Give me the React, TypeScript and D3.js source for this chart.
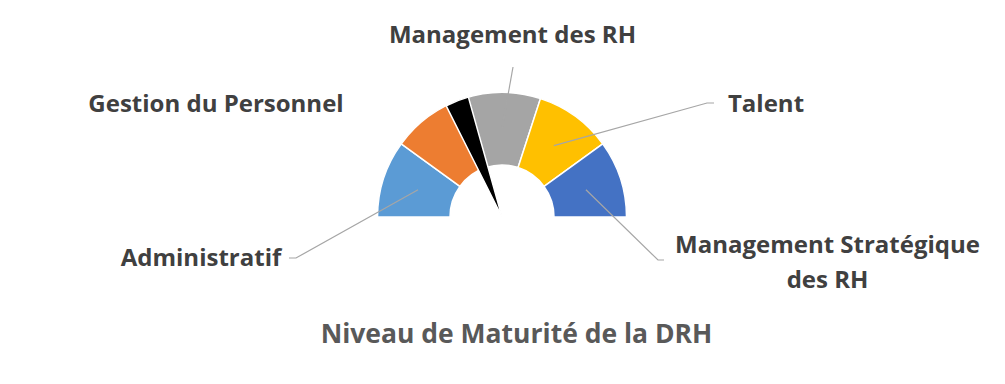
import React from "react";
import * as d3 from "d3";

const categories = [
  "Administratif",
  "Gestion du Personnel",
  "Management des RH",
  "Talent",
  "Management Stratégique des RH",
];
const segmentValues = [1, 1, 1, 1, 1];
const colors = ["#5B9BD5", "#ED7D31", "#A5A5A5", "#FFC000", "#4472C4"];
// needle pie: [before, needle, after]
const needleValues = [35.2, 6.1, 58.7];
const title = "Niveau de Maturité de la DRH";

const W = 1005;
const H = 384;
const cx = 502;
const cy = 217;
const outerR = 124.5;
const innerR = 52;

// label layout: [text lines, x, baseline y, leader elbow x,y, leader end x] per category
const labelLayout: Record<string, { lines: string[]; x: number; y: number; lead?: [number, number][] }> = {
  "Administratif": { lines: ["Administratif"], x: 201, y: 266, lead: [[296, 258], [289, 258]] },
  "Gestion du Personnel": { lines: ["Gestion du Personnel"], x: 216, y: 112 },
  "Management des RH": { lines: ["Management des RH"], x: 512.5, y: 43, lead: [[513, 67]] },
  "Talent": { lines: ["Talent"], x: 766, y: 112, lead: [[707, 103], [714, 103]] },
  "Management Stratégique des RH": {
    lines: ["Management Stratégique", "des RH"],
    x: 827.5,
    y: 253,
    lead: [[658, 260], [664, 260]],
  },
};

export default function App() {
  const pie = d3
    .pie<number>()
    .sort(null)
    .startAngle(-Math.PI / 2)
    .endAngle(Math.PI / 2);
  const segArcs = pie(segmentValues);
  const arc = d3.arc<d3.PieArcDatum<number>>().innerRadius(innerR).outerRadius(outerR);
  const needleArcs = pie(needleValues);
  const needleArc = d3.arc<d3.PieArcDatum<number>>().innerRadius(0).outerRadius(outerR);
  const font = "'Open Sans', 'DejaVu Sans', sans-serif";

  return (
    <svg width={W} height={H} style={{ position: "absolute", left: 0, top: 0 }}>
      <rect width={W} height={H} fill="#fff" />
      <g transform={`translate(${cx},${cy})`}>
        {segArcs.map((a, i) => (
          <path key={i} d={arc(a) || ""} fill={colors[i]} stroke="#fff" strokeWidth={1.5} />
        ))}
        <path d={needleArc(needleArcs[1]) || ""} fill="#000" stroke="#fff" strokeWidth={1.5} />
      </g>
      {segArcs.map((a, i) => {
        const lay = labelLayout[categories[i]];
        if (!lay.lead) return null;
        const c = arc.centroid(a);
        const pts: [number, number][] = [[c[0] + cx, c[1] + cy], ...lay.lead];
        return (
          <polyline
            key={"l" + i}
            points={pts.map((p) => p.join(",")).join(" ")}
            fill="none"
            stroke="#A6A6A6"
            strokeWidth={1.2}
          />
        );
      })}
      {categories.map((c, i) => {
        const lay = labelLayout[c];
        return (
          <text
            key={"t" + i}
            x={lay.x}
            y={lay.y}
            textAnchor="middle"
            fontFamily={font}
            fontWeight={700}
            fontSize={24}
            fill="#404040"
          >
            {lay.lines.map((ln, j) => (
              <tspan key={j} x={lay.x} y={lay.y + j * 35}>
                {ln}
              </tspan>
            ))}
          </text>
        );
      })}
      <text
        x={516.5}
        y={343}
        textAnchor="middle"
        fontFamily={font}
        fontWeight={700}
        fontSize={26.5}
        fill="#595959"
      >
        {title}
      </text>
    </svg>
  );
}
